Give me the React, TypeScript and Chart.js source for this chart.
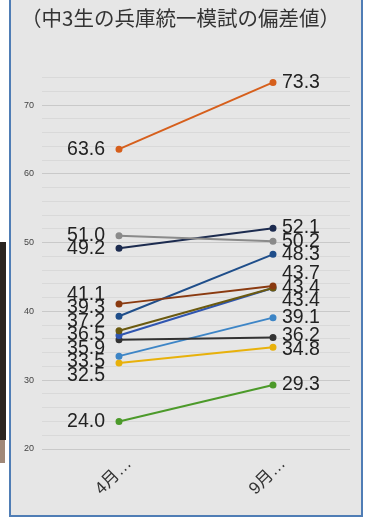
import React, { useEffect, useRef } from "react";
import { Chart, registerables } from "chart.js";

Chart.register(...registerables);

const titleText = "（中3生の兵庫統一模試の偏差値）";
const categories = ["4月…", "9月…"];

const orangeSeries = [63.6, 73.3];
const graySeries = [51.0, 50.2];
const navySeries = [49.2, 52.1];
const brownSeries = [41.1, 43.7];
const blueSeries = [39.3, 48.3];
const oliveSeries = [37.2, 43.4];
const midBlueSeries = [36.5, 43.4];
const darkSeries = [35.9, 36.2];
const lightBlueSeries = [33.5, 39.1];
const yellowSeries = [32.5, 34.8];
const greenSeries = [24.0, 29.3];

const seriesList = [
  { data: orangeSeries, color: "#d65f1c" },
  { data: graySeries, color: "#8a8a8a" },
  { data: navySeries, color: "#1c2b4f" },
  { data: brownSeries, color: "#8a3a10" },
  { data: blueSeries, color: "#1f4e8a" },
  { data: oliveSeries, color: "#6b5a10" },
  { data: midBlueSeries, color: "#2f55b0" },
  { data: darkSeries, color: "#333333" },
  { data: lightBlueSeries, color: "#3d85c6" },
  { data: yellowSeries, color: "#e8b10b" },
  { data: greenSeries, color: "#4c9a2a" },
];

const yMin = 20;
const yMax = 74;
const yStep = 2;

const labelPlugin = {
  id: "spreadLabels",
  afterDatasetsDraw(chart: any) {
    const ctx = chart.ctx;
    const gap = 13.5;
    ctx.save();
    ctx.font = "19.5px 'Liberation Sans', Arial, sans-serif";
    ctx.fillStyle = "#222";
    ctx.textBaseline = "middle";
    for (let i = 0; i < categories.length; i++) {
      const items: any[] = [];
      chart.data.datasets.forEach((ds: any, di: number) => {
        const meta = chart.getDatasetMeta(di);
        const pt = meta.data[i];
        if (!pt) return;
        items.push({ text: Number(ds.data[i]).toFixed(1), x: pt.x, y: pt.y });
      });
      items.sort((a, b) => a.y - b.y);
      let clusters = items.map((it) => ({ members: [it], center: it.y }));
      let merged = true;
      while (merged) {
        merged = false;
        for (let k = 0; k < clusters.length - 1; k++) {
          const a = clusters[k];
          const b = clusters[k + 1];
          const aBottom = a.center + ((a.members.length - 1) * gap) / 2;
          const bTop = b.center - ((b.members.length - 1) * gap) / 2;
          if (bTop - aBottom < gap) {
            const members = a.members.concat(b.members);
            const center = members.reduce((s, m) => s + m.y, 0) / members.length;
            clusters.splice(k, 2, { members, center });
            merged = true;
            break;
          }
        }
      }
      clusters.forEach((c) => {
        const n = c.members.length;
        c.members.forEach((m, j) => {
          const ly = c.center + (j - (n - 1) / 2) * gap;
          if (i === 0) {
            ctx.textAlign = "right";
            ctx.fillText(m.text, m.x - 14, ly);
          } else {
            ctx.textAlign = "left";
            ctx.fillText(m.text, m.x + 9, ly);
          }
        });
      });
    }
    ctx.restore();
  },
};

export default function App() {
  const canvasRef = useRef<HTMLCanvasElement>(null);

  useEffect(() => {
    if (!canvasRef.current) return;
    const chart = new Chart(canvasRef.current, {
      type: "line",
      data: {
        labels: categories,
        datasets: seriesList.map((s) => ({
          data: s.data,
          borderColor: s.color,
          backgroundColor: s.color,
          pointBackgroundColor: s.color,
          pointBorderColor: s.color,
          pointRadius: 2.5,
          borderWidth: 2,
          fill: false,
        })),
      },
      options: {
        animation: false,
        responsive: false,
        maintainAspectRatio: false,
        layout: { padding: { left: 0, right: 11, top: 0, bottom: 0 } },
        plugins: {
          legend: { display: false },
          tooltip: { enabled: false },
          title: {
            display: true,
            text: titleText,
            color: "#333",
            font: { family: "'Noto Sans CJK JP', sans-serif", size: 20.5, weight: "normal" },
            padding: { top: 6, bottom: 47 },
          },
        },
        scales: {
          x: {
            offset: true,
            grid: { display: false },
            border: { display: false },
            ticks: {
              color: "#333",
              font: { family: "'Liberation Sans', 'Noto Sans CJK JP', sans-serif", size: 17 },
              minRotation: 45,
              maxRotation: 45,
              padding: -3,
              labelOffset: 10,
            },
            afterFit(scale: any) {
              scale.height = 66;
            },
          },
          y: {
            min: yMin,
            max: yMax,
            border: { display: false },
            grid: {
              drawTicks: false,
              color: (c: any) => (c.tick && c.tick.value % 10 === 0 ? "#c9c9c9" : "#d9d9d9"),
              lineWidth: 1,
            },
            ticks: {
              stepSize: yStep,
              autoSkip: false,
              padding: 8,
              color: "#444",
              font: { family: "'Liberation Sans', Arial, sans-serif", size: 9 },
              callback: (v: any) => (Number(v) % 10 === 0 ? String(v) : ""),
            },
            afterFit(scale: any) {
              scale.width = 31;
            },
          },
        },
      },
      plugins: [labelPlugin],
    });
    return () => chart.destroy();
  }, []);

  return (
    <div style={{ position: "absolute", left: 0, top: 0, width: 369, height: 517, background: "#fff", overflow: "hidden" }}>
      <div style={{ position: "absolute", left: 0, top: 242, width: 6, height: 198, background: "#2a2420" }} />
      <div style={{ position: "absolute", left: 0, top: 440, width: 5, height: 23, background: "#a08878" }} />
      <div
        style={{
          position: "absolute",
          left: 9,
          top: -2,
          width: 350,
          height: 515,
          border: "2px solid #4f7db5",
          background: "#e6e6e6",
        }}
      >
        <canvas ref={canvasRef} width={350} height={515} style={{ display: "block", width: 350, height: 515 }} />
      </div>
    </div>
  );
}
